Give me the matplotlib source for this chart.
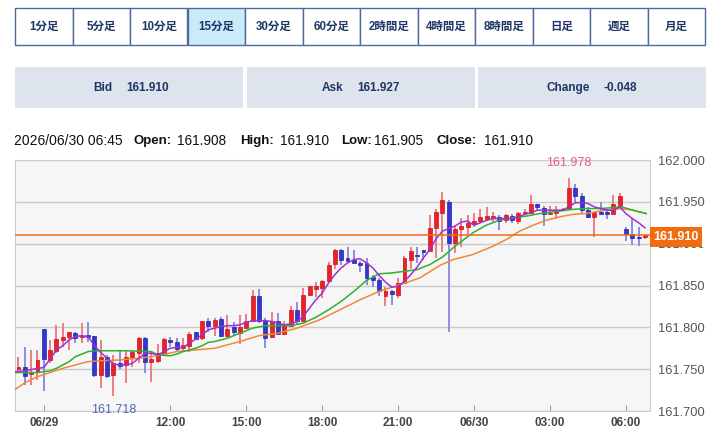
import matplotlib
matplotlib.use("Agg")
import matplotlib.pyplot as plt
from matplotlib.patches import Rectangle
from matplotlib.transforms import Bbox, TransformedBbox
import numpy as np
import pandas as pd

W, H = 720, 428

# 足種タブ
tabs = ["1分足", "5分足", "10分足", "15分足", "30分足", "60分足",
        "2時間足", "4時間足", "8時間足", "日足", "週足", "月足"]
selected_tab = "15分足"

# レート表示
quote_labels = ["Bid", "Ask", "Change"]
quote_values = ["161.910", "161.927", "-0.048"]

last_time = "2026/06/30 06:45"
last_names = ["Open:", "High:", "Low:", "Close:"]
last_values = ["161.908", "161.910", "161.905", "161.910"]

# 15分足 (2026/06/29 06:00 から)
start_time = "2026-06-29 06:00"
opens = [161.750, 161.753, 161.744, 161.747, 161.798, 161.761, 161.772, 161.785, 161.789, 161.793,
         161.788, 161.791, 161.790, 161.743, 161.764, 161.743, 161.757, 161.755, 161.764, 161.769,
         161.787, 161.759, 161.760, 161.768, 161.785, 161.783, 161.775, 161.778, 161.794, 161.787,
         161.808, 161.801, 161.810, 161.790, 161.800, 161.793, 161.799, 161.807, 161.838, 161.807,
         161.788, 161.807, 161.792, 161.801, 161.821, 161.808, 161.839, 161.846, 161.847, 161.855,
         161.876, 161.892, 161.883, 161.881, 161.877, 161.877, 161.860, 161.857, 161.838, 161.843,
         161.839, 161.853, 161.881, 161.886, 161.892, 161.891, 161.919, 161.937, 161.950, 161.901,
         161.918, 161.920, 161.924, 161.927, 161.930, 161.931, 161.932, 161.928, 161.933, 161.927,
         161.937, 161.937, 161.947, 161.943, 161.936, 161.937, 161.940, 161.941, 161.966, 161.957,
         161.940, 161.932, 161.938, 161.938, 161.936, 161.945, 161.917, 161.911, 161.908, 161.908]
highs = [161.764, 161.777, 161.773, 161.773, 161.798, 161.785, 161.803, 161.805, 161.795, 161.794,
         161.805, 161.806, 161.790, 161.785, 161.767, 161.767, 161.772, 161.773, 161.773, 161.789,
         161.789, 161.772, 161.780, 161.787, 161.789, 161.787, 161.787, 161.794, 161.795, 161.808,
         161.811, 161.811, 161.812, 161.815, 161.806, 161.815, 161.816, 161.845, 161.846, 161.811,
         161.818, 161.817, 161.807, 161.825, 161.830, 161.847, 161.850, 161.854, 161.856, 161.878,
         161.894, 161.894, 161.896, 161.893, 161.879, 161.883, 161.863, 161.859, 161.848, 161.845,
         161.859, 161.885, 161.896, 161.896, 161.893, 161.934, 161.941, 161.962, 161.952, 161.922,
         161.931, 161.934, 161.937, 161.941, 161.944, 161.938, 161.934, 161.936, 161.935, 161.938,
         161.942, 161.958, 161.948, 161.945, 161.945, 161.945, 161.943, 161.978, 161.971, 161.960,
         161.944, 161.938, 161.950, 161.941, 161.958, 161.961, 161.920, 161.929, 161.920, 161.910]
lows = [161.745, 161.731, 161.731, 161.737, 161.724, 161.757, 161.769, 161.777, 161.773, 161.781,
        161.781, 161.782, 161.741, 161.728, 161.740, 161.718, 161.750, 161.734, 161.753, 161.757,
        161.745, 161.735, 161.757, 161.766, 161.777, 161.772, 161.772, 161.770, 161.785, 161.785,
        161.795, 161.790, 161.788, 161.788, 161.791, 161.780, 161.799, 161.807, 161.805, 161.775,
        161.787, 161.791, 161.791, 161.801, 161.803, 161.807, 161.837, 161.836, 161.835, 161.854,
        161.870, 161.875, 161.879, 161.877, 161.866, 161.851, 161.848, 161.838, 161.825, 161.827,
        161.835, 161.853, 161.870, 161.877, 161.881, 161.891, 161.883, 161.890, 161.795, 161.889,
        161.896, 161.910, 161.920, 161.925, 161.927, 161.926, 161.916, 161.925, 161.925, 161.924,
        161.935, 161.937, 161.939, 161.921, 161.935, 161.929, 161.939, 161.940, 161.950, 161.936,
        161.931, 161.908, 161.935, 161.929, 161.936, 161.944, 161.903, 161.898, 161.897, 161.905]
closes = [161.753, 161.742, 161.746, 161.761, 161.762, 161.773, 161.786, 161.789, 161.794, 161.787,
          161.790, 161.789, 161.743, 161.765, 161.742, 161.757, 161.754, 161.764, 161.771, 161.787,
          161.758, 161.762, 161.769, 161.786, 161.782, 161.774, 161.779, 161.792, 161.786, 161.808,
          161.801, 161.809, 161.790, 161.798, 161.794, 161.800, 161.808, 161.837, 161.807, 161.787,
          161.807, 161.792, 161.801, 161.821, 161.807, 161.839, 161.850, 161.849, 161.855, 161.875,
          161.892, 161.881, 161.879, 161.877, 161.875, 161.859, 161.857, 161.843, 161.843, 161.840,
          161.853, 161.883, 161.891, 161.885, 161.890, 161.919, 161.938, 161.952, 161.901, 161.917,
          161.921, 161.925, 161.927, 161.932, 161.933, 161.933, 161.927, 161.934, 161.928, 161.937,
          161.938, 161.947, 161.944, 161.936, 161.937, 161.940, 161.942, 161.966, 161.957, 161.940,
          161.932, 161.938, 161.936, 161.935, 161.948, 161.957, 161.911, 161.907, 161.907, 161.910]

# 移動平均線 (画面から読み取った値, x は足の番号)
ma_short_x = [-0.5, 1, 3, 4, 5, 6, 7, 8, 9, 10, 11, 12, 13, 14, 15, 16, 17, 18, 19, 20,
              21, 22, 23, 24, 25, 26, 27, 28, 29, 30, 31, 32, 33, 34, 35, 36, 37, 38, 39, 40,
              41, 42, 43, 44, 45, 46, 47, 48, 49, 50, 51, 52, 53, 54, 55, 56, 57, 58, 59, 60,
              61, 62, 63, 64, 65, 66, 67, 68, 69, 70, 71, 72, 73, 74, 75, 76, 77, 78, 79, 80,
              81, 82, 83, 84, 85, 86, 87, 88, 89, 90, 91, 92, 93, 94, 95, 96, 97, 98, 99]
ma_short_y = [161.747, 161.748, 161.751, 161.752, 161.762, 161.773, 161.778, 161.785, 161.789, 161.790,
              161.789, 161.778, 161.770, 161.763, 161.756, 161.755, 161.755, 161.757, 161.763, 161.769,
              161.769, 161.767, 161.771, 161.775, 161.776, 161.776, 161.781, 161.786, 161.791, 161.797,
              161.799, 161.801, 161.802, 161.802, 161.803, 161.806, 161.808, 161.808, 161.808, 161.807,
              161.805, 161.803, 161.804, 161.807, 161.813, 161.823, 161.833, 161.841, 161.853, 161.863,
              161.871, 161.877, 161.881, 161.882, 161.877, 161.871, 161.862, 161.854, 161.848, 161.849,
              161.855, 161.863, 161.872, 161.883, 161.893, 161.906, 161.915, 161.918, 161.921, 161.926,
              161.927, 161.922, 161.925, 161.928, 161.930, 161.930, 161.930, 161.930, 161.932, 161.935,
              161.937, 161.940, 161.940, 161.940, 161.940, 161.940, 161.944, 161.949, 161.949, 161.948,
              161.944, 161.942, 161.940, 161.940, 161.944, 161.936, 161.930, 161.925, 161.919]
ma_mid_x = [-0.5, 3, 5, 6, 7, 8, 9, 10, 11, 12, 17, 21, 22, 24, 25, 26, 27, 28, 29, 30,
            31, 32, 33, 35, 37, 39, 43, 45, 47, 49, 51, 53, 55, 57, 59, 61, 63, 65, 67, 69,
            71.8, 73.9, 76, 78.2, 80.3, 82.4, 84.5, 87.6, 89.7, 91.8, 93.9, 95.3, 97.1, 99.2]
ma_mid_y = [161.746, 161.746, 161.748, 161.751, 161.755, 161.759, 161.765, 161.768, 161.771, 161.772,
            161.772, 161.771, 161.767, 161.766, 161.768, 161.771, 161.773, 161.775, 161.778, 161.782,
            161.783, 161.785, 161.787, 161.793, 161.799, 161.802, 161.802, 161.805, 161.812, 161.821,
            161.831, 161.843, 161.856, 161.864, 161.865, 161.867, 161.869, 161.875, 161.884, 161.897,
            161.913, 161.922, 161.928, 161.931, 161.933, 161.936, 161.938, 161.941, 161.942, 161.942,
            161.943, 161.944, 161.940, 161.936]
ma_long_x = [-0.5, 1.3, 3, 5, 7, 9, 11, 13, 16, 19, 22, 25, 28, 31, 34, 35, 38, 41, 44, 47.6,
             50.8, 54, 57, 60.3, 63.4, 66.6, 68.7, 71.8, 75, 77.1, 79.2, 81.3, 83.4, 85.5, 87.6, 89.7,
             91.8, 95.3, 97.1, 99.2]
ma_long_y = [161.726, 161.735, 161.741, 161.746, 161.751, 161.755, 161.759, 161.760, 161.761, 161.763,
             161.766, 161.771, 161.773, 161.775, 161.781, 161.783, 161.790, 161.793, 161.799, 161.809,
             161.821, 161.833, 161.843, 161.851, 161.859, 161.874, 161.881, 161.887, 161.897, 161.905,
             161.915, 161.922, 161.928, 161.932, 161.935, 161.936, 161.939, 161.942, 161.940, 161.936]

tick_times = ["2026-06-29 07:00", "2026-06-29 12:00", "2026-06-29 15:00", "2026-06-29 18:00",
              "2026-06-29 21:00", "2026-06-30 00:00", "2026-06-30 03:00", "2026-06-30 06:00"]
tick_labels = ["06/29", "12:00", "15:00", "18:00", "21:00", "06/30", "03:00", "06:00"]

current_price = 161.910
high_label = "161.978"
low_label = "161.718"

UP = "#ec2027"
DOWN = "#3535cf"
UP_WICK = "#ea7f84"
DOWN_WICK = "#8e8edc"
NAVY = "#1f3566"
JP = ["Liberation Sans", "Noto Sans CJK JP"]


def fx(px):
    return px / W


def fy(py):
    return 1 - py / H


fig = plt.figure(figsize=(W / 100, H / 100), dpi=100)
fig.patch.set_facecolor("white")

# タブ
tab_w = 57.5
for k, name in enumerate(tabs):
    x0 = 15 + k * tab_w
    face = "#c9ebfa" if name == selected_tab else "white"
    fig.patches.append(Rectangle((fx(x0), fy(45)), tab_w / W, 37 / H, transform=fig.transFigure,
                                 facecolor=face, edgecolor="#4e6a9c", linewidth=1))
    fig.text(fx(x0 + tab_w / 2), fy(26.5), name, ha="center", va="center", fontsize=8.3,
             fontweight="bold", color=NAVY, family=JP)

# Bid / Ask / Change
box_x = [15, 247, 478]
box_w = 228
label_right = [112, 343, 590]
value_left = [126, 357, 603]
for x0, lr, vl, lab, val in zip(box_x, label_right, value_left, quote_labels, quote_values):
    fig.patches.append(Rectangle((fx(x0), fy(108)), box_w / W, 41 / H, transform=fig.transFigure,
                                 facecolor="#dee4ed", edgecolor="none"))
    fig.text(fx(lr), fy(88), lab, ha="right", va="center", fontsize=8.5,
             fontweight="bold", color=NAVY, family=JP)
    fig.text(fx(vl), fy(88), val, ha="left", va="center", fontsize=8.5,
             fontweight="bold", color=NAVY, family=JP)

# 最新足の四本値
fig.text(fx(14), fy(141), last_time, ha="left", va="center", fontsize=10, color="#111", family=JP)
name_x = [133, 240, 341, 437]
value_x = [177, 280, 374, 484]
for nx, vx, n, v in zip(name_x, value_x, last_names, last_values):
    fig.text(fx(nx), fy(141), n, ha="left", va="center", fontsize=9.5, fontweight="bold",
             color="#111", family=JP)
    fig.text(fx(vx), fy(141), v, ha="left", va="center", fontsize=9.8, color="#111", family=JP)

# チャート本体
ax = fig.add_axes([fx(15), fy(411), 635 / W, 251 / H])
ax.set_facecolor("#f6f6f6")

n = len(opens)
xs = np.arange(n)
o = np.array(opens)
c = np.array(closes)
hi = np.array(highs)
lo = np.array(lows)
up = c >= o

ax.vlines(xs[up], lo[up], hi[up], color=UP_WICK, linewidth=1.4, zorder=2)
ax.vlines(xs[~up], lo[~up], hi[~up], color=DOWN_WICK, linewidth=1.4, zorder=2)
body_bottom = np.minimum(o, c)
body_h = np.maximum(np.abs(c - o), 0.0012)
ax.bar(xs[up], body_h[up], bottom=body_bottom[up], width=0.62, color=UP,
       edgecolor="#c8141c", linewidth=0.5, zorder=3)
ax.bar(xs[~up], body_h[~up], bottom=body_bottom[~up], width=0.62, color=DOWN,
       edgecolor="#2424a8", linewidth=0.5, zorder=3)

ax.plot(ma_long_x, ma_long_y, color="#f0883a", linewidth=1.1, zorder=4)
ax.plot(ma_mid_x, ma_mid_y, color="#2fb02f", linewidth=1.1, zorder=4)
ax.plot(ma_short_x, ma_short_y, color="#a030d8", linewidth=1.1, zorder=4)

ax.axhline(current_price, color="#ee6c1c", linewidth=1.1, zorder=5)

# 高値・安値
i_hi = int(np.argmax(hi))
i_lo = int(np.argmin(lo))
ax.annotate(high_label, (i_hi, hi[i_hi]), xytext=(0, 7), textcoords="offset points",
            ha="center", va="bottom", fontsize=9, color="#e35a83", family=JP)
ax.annotate(low_label, (i_lo, lo[i_lo]), xytext=(0, -6), textcoords="offset points",
            ha="center", va="top", fontsize=9, color="#4f6bb8", family=JP)

ax.set_xlim(-0.55, n - 0.2)
ax.set_ylim(161.700, 162.000)

times = pd.date_range(start_time, periods=n, freq="15min")
tick_pos = times.get_indexer(pd.to_datetime(tick_times))
ax.set_xticks(tick_pos)
ax.set_xticklabels(tick_labels)
ax.tick_params(axis="x", direction="in", length=4, color="#999999", pad=4,
               labelsize=8.5, labelcolor="#444444")
for t in ax.get_xticklabels():
    t.set_fontweight("bold")
    t.set_family(JP)

ax.yaxis.tick_right()
yt = np.round(np.arange(161.700, 162.0001, 0.05), 3)
ax.set_yticks(yt)
ax.set_yticklabels([f"{v:.3f}" for v in yt])
ax.tick_params(axis="y", length=0, pad=6, labelsize=9.3, labelcolor="#555555")
# 現在値ラベルに隠れる目盛りは下端だけ見える
hidden = TransformedBbox(Bbox([[fx(650), 0], [1, fy(247)]]), fig.transFigure)
for v, t in zip(yt, ax.get_yticklabels()):
    t.set_family(JP)
    if abs(v - 161.900) < 1e-6:
        t.set_clip_on(True)
        t.set_clip_box(hidden)
ax.grid(axis="y", color="#c9c9c9", linewidth=1)
ax.set_axisbelow(True)
for s in ax.spines.values():
    s.set_color("#cccccc")

# 現在値ラベル
fig.patches.append(Rectangle((fx(650), fy(247)), 52 / W, 20 / H, transform=fig.transFigure,
                             facecolor="#f26b0f", edgecolor="none", zorder=5))
fig.text(fx(676), fy(237), f"{current_price:.3f}", ha="center", va="center", fontsize=9,
         fontweight="bold", color="white", family=JP, zorder=6)

fig.savefig("out.png", dpi=100)
